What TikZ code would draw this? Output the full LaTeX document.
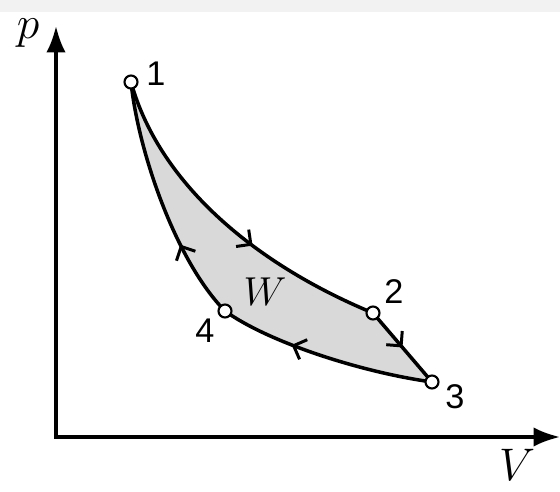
\documentclass[tikz,border=0pt]{standalone}
\usepackage{fix-cm}
\usepackage{fontspec}
\setmainfont{Liberation Sans}
\usetikzlibrary{arrows.meta,decorations.markings}
\tikzset{
  axisline/.style={line width=1.9pt, arrows={Latex[length=15pt,width=11pt]-Latex[length=15pt,width=11pt]}},
  curveline/.style={line width=2pt, line join=round},
  cyclefill/.style={fill=black!15},
  flowtip/.style={postaction={decorate}, decoration={markings,
      mark=at position #1 with {\arrow{Straight Barb[length=6pt,width=12pt,line width=1.7pt]}}}},
  statept/.style={circle, draw, fill=white, line width=1.2pt, minimum size=0.26cm, inner sep=0pt},
  numlbl/.style={font=\fontsize{19.5}{22}\selectfont, inner sep=0pt},
  axlbl/.style={font=\fontsize{26}{30}\selectfont, inner sep=0pt},
}
\begin{document}
\begin{tikzpicture}[x=0.02cm,y=-0.02cm]
\useasboundingbox (0,0) rectangle (560,492);
\fill[black!5] (0,0) rectangle (560,12);
% axes
\coordinate (O) at (56,437);
\coordinate (ytip) at (56,26);
\coordinate (xtip) at (560,437);
\draw[axisline] (ytip) -- (O) -- (xtip);
\node[axlbl] (plbl) at (28,33) {$p$};
\node[axlbl] (Vlbl) at (517,465) {$V$};
% state points
\coordinate (p1) at (131,82);
\coordinate (p2) at (373,313);
\coordinate (p3) at (432,382);
\coordinate (p4) at (225,311);
% fill
\fill[cyclefill] (p1) .. controls (158,180) and (250,262) .. (p2) -- (p3)
  .. controls (360,372) and (268,342) .. (p4)
  .. controls (175,260) and (138,150) .. (p1) -- cycle;
% processes
\draw[curveline, flowtip=0.6] (p1) .. controls (158,180) and (250,262) .. (p2);
\draw[curveline, flowtip=0.5] (p2) -- (p3);
\draw[curveline, flowtip=0.66] (p3) .. controls (360,372) and (268,342) .. (p4);
\draw[curveline, flowtip=0.32] (p4) .. controls (175,260) and (138,150) .. (p1);
% circles
\node[statept] (s1) at (p1) {};
\node[statept] (s2) at (p2) {};
\node[statept] (s3) at (p3) {};
\node[statept] (s4) at (p4) {};
% labels
\node[numlbl] (l1) at (156,74) {1};
\node[numlbl] (l2) at (394,292) {2};
\node[numlbl] (l3) at (455,397) {3};
\node[numlbl] (l4) at (205,331) {4};
\node[font=\fontsize{23}{27}\selectfont, inner sep=0pt] (W) at (265,292) {$W$};
\end{tikzpicture}
\end{document}
